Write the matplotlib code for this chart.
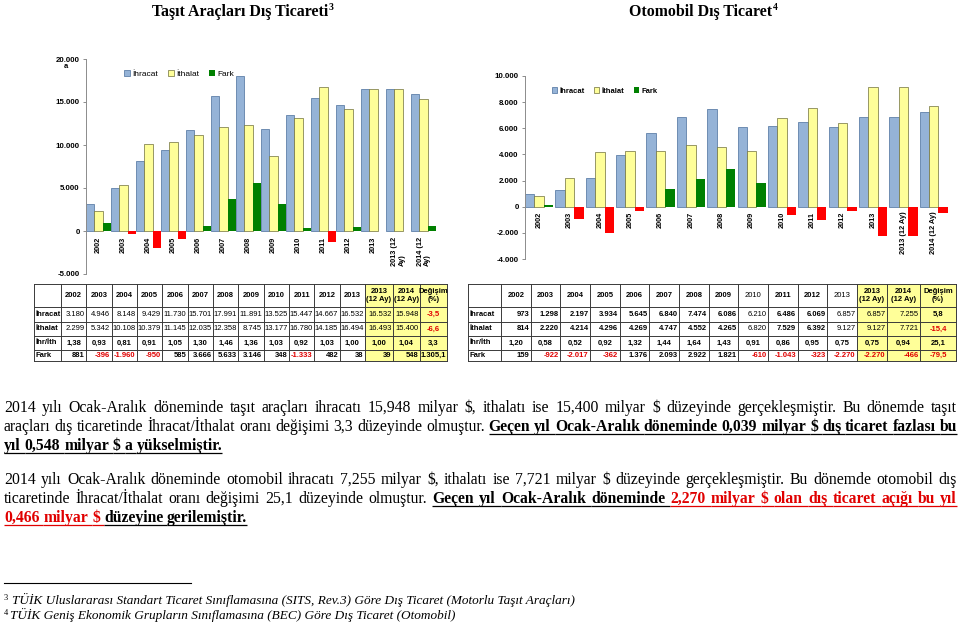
import numpy as np
import matplotlib
matplotlib.use('Agg')
import matplotlib.pyplot as plt
from matplotlib.patches import Rectangle

W, H = 959, 624

# ---- data ----
years = ['2002', '2003', '2004', '2005', '2006', '2007', '2008', '2009', '2010', '2011', '2012', '2013']
tasit_xlabels = years + ['2013 (12\nAy)', '2014 (12\nAy)']
oto_xlabels = years + ['2013 (12 Ay)', '2014 (12 Ay)']
table_heads = years + ['2013\n(12 Ay)', '2014\n(12 Ay)', 'Değişim\n(%)']
row_names = ['İhracat', 'İthalat', 'İhr/İth', 'Fark']
legend_names = ['İhracat', 'İthalat', 'Fark']

tasit_ihracat = [3180, 4946, 8148, 9429, 11730, 15701, 17991, 11891, 13525, 15447, 14667, 16532, 16532, 15948]
tasit_ithalat = [2299, 5342, 10108, 10379, 11145, 12035, 12358, 8745, 13177, 16780, 14185, 16494, 16493, 15400]
tasit_oran = [1.38, 0.93, 0.81, 0.91, 1.05, 1.30, 1.46, 1.36, 1.03, 0.92, 1.03, 1.00, 1.00, 1.04]
tasit_fark = [881, -396, -1960, -950, 585, 3666, 5633, 3146, 348, -1333, 482, 38, 39, 548]
tasit_degisim = [-3.5, -6.6, 3.3, 1305.1]

oto_ihracat = [973, 1298, 2197, 3934, 5645, 6840, 7474, 6086, 6210, 6486, 6069, 6857, 6857, 7255]
oto_ithalat = [814, 2220, 4214, 4296, 4269, 4747, 4552, 4265, 6820, 7529, 6392, 9127, 9127, 7721]
oto_oran = [1.20, 0.58, 0.52, 0.92, 1.32, 1.44, 1.64, 1.43, 0.91, 0.86, 0.95, 0.75, 0.75, 0.94]
oto_fark = [159, -922, -2017, -362, 1376, 2093, 2922, 1821, -610, -1043, -323, -2270, -2270, -466]
oto_degisim = [5.8, -15.4, 25.1, -79.5]

title_left = 'Taşıt Araçları Dış Ticareti'
title_right = 'Otomobil Dış Ticaret'

para_lines = [
    ([('2014 yılı Ocak-Aralık döneminde taşıt araçları ihracatı 15,948 milyar $, ithalatı ise 15,400 milyar $ düzeyinde gerçekleşmiştir. Bu dönemde taşıt', 'n')], True),
    ([('araçları dış ticaretinde İhracat/İthalat oranı değişimi 3,3 düzeyinde olmuştur.', 'n'),
      ('Geçen yıl Ocak-Aralık döneminde 0,039 milyar $ dış ticaret fazlası bu', 'b')], True),
    ([('yıl 0,548 milyar $ a yükselmiştir.', 'b')], False),
    ([('2014 yılı Ocak-Aralık döneminde otomobil ihracatı 7,255 milyar $, ithalatı ise 7,721 milyar $ düzeyinde gerçekleşmiştir. Bu dönemde otomobil dış', 'n')], True),
    ([('ticaretinde İhracat/İthalat oranı değişimi 25,1 düzeyinde olmuştur.', 'n'),
      ('Geçen yıl Ocak-Aralık döneminde', 'b'),
      ('2,270  milyar $ olan dış ticaret açığı bu yıl', 'r')], True),
    ([('0,466 milyar $', 'r'), ('düzeyine gerilemiştir.', 'b')], False),
]
para_y = [412, 431, 450, 484, 503, 522]

footnotes = [('3', 'TÜİK Uluslararası Standart Ticaret Sınıflamasına (SITS, Rev.3) Göre Dış Ticaret (Motorlu Taşıt Araçları)'),
             ('4', 'TÜİK Geniş Ekonomik Grupların Sınıflamasına (BEC) Göre Dış Ticaret (Otomobil)')]

# ---- styles ----
blue, blue_e = '#95B3D7', '#4A6E9C'
yel, yel_e = '#FFFF99', '#6E6E3A'
green, red = '#008000', '#FF0000'
txt_red = '#E00000'
SANS = 'Liberation Sans'
SERIF = 'Liberation Serif'

fig = plt.figure(figsize=(W / 100, H / 100), dpi=100)
ov = fig.add_axes([0, 0, 1, 1])
ov.set_xlim(0, W)
ov.set_ylim(H, 0)
ov.axis('off')
rend = fig.canvas.get_renderer()


def px_axes(x0, y0, x1, y1):
    return fig.add_axes([x0 / W, 1 - y1 / H, (x1 - x0) / W, (y1 - y0) / H])


def fmt_int(v):
    return f'{v:,}'.replace(',', '.')


def fmt_dec(v, n):
    s = f'{v:,.{n}f}'
    return s.replace(',', '#').replace('.', ',').replace('#', '.')


def bar_chart(box, exp, imp, fark, labels, ylim, step, width, xlim, lab_off, leg_xy, leg_w, leg_fs):
    ax = px_axes(*box)
    ax.set_facecolor('none')
    x = np.arange(len(exp))
    fark = np.array(fark)
    ax.bar(x - width, exp, width, color=blue, edgecolor=blue_e, lw=0.5)
    ax.bar(x, imp, width, color=yel, edgecolor=yel_e, lw=0.5)
    ax.bar(x + width, fark, width, color=[green if v >= 0 else red for v in fark], lw=0)
    ax.set_xlim(*xlim)
    ax.set_ylim(*ylim)
    for s in ['top', 'right', 'bottom']:
        ax.spines[s].set_visible(False)
    ax.spines['left'].set_color('#8C8C8C')
    ax.spines['left'].set_linewidth(0.7)
    ax.set_xticks([])
    ax.set_yticks(np.arange(ylim[0], ylim[1] + 1, step))
    ax.set_yticklabels([fmt_int(int(v)) for v in np.arange(ylim[0], ylim[1] + 1, step)],
                       fontsize=5.7, fontweight='bold', family=SANS)
    ax.tick_params(axis='y', length=2.5, width=0.7, color='#8C8C8C', pad=2)
    for i, lb in enumerate(labels):
        ax.annotate(lb, (i, 0), xytext=(0, -lab_off), textcoords='offset points', rotation=90,
                    ha='center', va='top', multialignment='left', fontsize=5.3,
                    fontweight='bold', family=SANS, linespacing=1.0)
    handles = [Rectangle((0, 0), 1, 1, fc=blue, ec=blue_e, lw=0.5),
               Rectangle((0, 0), 1, 1, fc=yel, ec=yel_e, lw=0.5),
               Rectangle((0, 0), 1, 1, fc=green, ec='none')]
    fig.legend(handles, legend_names, loc='center left', bbox_to_anchor=(leg_xy[0] / W, 1 - leg_xy[1] / H),
               ncol=3, frameon=False, prop={'family': SANS, 'size': leg_fs, 'weight': leg_w},
               handlelength=0.7, handleheight=0.7, handletextpad=0.3, columnspacing=1.2,
               borderaxespad=0, borderpad=0)
    return ax


# left chart: 14 groups between x=86 and x=436
axl = bar_chart((86, 59, 436, 274), tasit_ihracat, tasit_ithalat, tasit_fark, tasit_xlabels,
                (-5000, 20000), 5000, 1 / 3, (-0.5, 13.5), 4.3, (124, 74), 'normal', 6)
ov.text(66, 67, 'a', fontsize=5.5, fontweight='bold', family=SANS, ha='center', va='center')
# right chart: 14 groups between x=525 and x=950
axr = bar_chart((525, 76, 950, 259), oto_ihracat, oto_ithalat, oto_fark, oto_xlabels,
                (-4000, 10000), 2000, 0.31, (-0.465, 13.535), 3.6, (552, 91), 'bold', 5.5)


# ---- tables ----
row_y = [284, 307, 322, 336, 350, 361]


def draw_table(x0, widths, exp, imp, oran, fark, degisim, row_w, head_normal, val_normal):
    xe = x0 + np.concatenate([[0], np.cumsum(widths)])
    ye = np.array(row_y)
    ov.add_patch(Rectangle((xe[-4], ye[0]), xe[-1] - xe[-4], ye[-1] - ye[0], fc='#FFFF99', ec='none', zorder=1))
    for xv in xe:
        ov.plot([xv, xv], [ye[0], ye[-1]], color='#3A3A3A', lw=0.7, zorder=2)
    for yv in ye:
        ov.plot([xe[0], xe[-1]], [yv, yv], color='#3A3A3A', lw=0.7, zorder=2)
    fs = 5.5
    for j, hd in enumerate(table_heads):
        ov.text((xe[j + 1] + xe[j + 2]) / 2, (ye[0] + ye[1]) / 2, hd, ha='center', va='center',
                fontsize=fs, family=SANS, linespacing=1.1, zorder=3,
                fontweight='normal' if j in head_normal else 'bold')
    rows = [[fmt_int(v) for v in exp] + [fmt_dec(degisim[0], 1)],
            [fmt_int(v) for v in imp] + [fmt_dec(degisim[1], 1)],
            [fmt_dec(v, 2) for v in oran] + [fmt_dec(degisim[2], 1)],
            [fmt_int(v) for v in fark] + [fmt_dec(degisim[3], 1)]]
    aligns = ['right', 'right', 'center', 'right']
    for r, vals in enumerate(rows):
        yc = (ye[r + 1] + ye[r + 2]) / 2
        ov.text(xe[0] + 1.5, yc, row_names[r], ha='left', va='center', fontsize=fs,
                family=SANS, fontweight='bold', zorder=3)
        for j, s in enumerate(vals):
            last = j == len(vals) - 1
            al = 'center' if last else aligns[r]
            xt = {'center': (xe[j + 1] + xe[j + 2]) / 2, 'right': xe[j + 2] - 1.5}[al]
            wt = row_w[r]
            if j in val_normal and not last and r < 2:
                wt = 'normal'
            if last:
                wt = 'bold'
            ov.text(xt, yc, s, ha=al, va='center', fontsize=fs, family=SANS, zorder=3,
                    fontweight=wt, color=txt_red if s.startswith('-') else 'black')


draw_table(34, [27] + [25.33] * 12 + [28, 27, 27], tasit_ihracat, tasit_ithalat, tasit_oran,
           tasit_fark, tasit_degisim, ['normal', 'normal', 'bold', 'bold'], set(), set())
draw_table(468, [33] + [29.67] * 12 + [30, 33, 36], oto_ihracat, oto_ithalat, oto_oran,
           oto_fark, oto_degisim, ['bold', 'bold', 'bold', 'bold'], {8, 11}, {8, 11, 12, 13})

# ---- titles ----
for txt, xr, sup in [(title_left, 328, '3'), (title_right, 772, '4')]:
    ov.text(xr, 16, txt, ha='right', va='baseline', fontsize=11.4, fontweight='bold', family=SERIF)
    ov.text(xr + 0.5, 10, sup, ha='left', va='baseline', fontsize=7, fontweight='bold', family=SERIF)

# ---- paragraphs (justified) ----
FS = 11.3
STY = {'n': ('normal', 'black', False), 'b': ('bold', 'black', True), 'r': ('bold', txt_red, True)}
space_px = 0.25 * FS * 100 / 72
for (segs, justify), yb in zip(para_lines, para_y):
    items = []
    for txt, st in segs:
        wt, col, und = STY[st]
        for w in txt.split():
            t = ov.text(0, yb, w, ha='left', va='baseline', fontsize=FS, family=SERIF,
                        fontweight=wt, color=col)
            items.append([t, t.get_window_extent(rend).width, col, und])
    x0, x1 = 4, 957
    total = sum(it[1] for it in items)
    gap = (x1 - x0 - total) / (len(items) - 1) if justify else space_px
    xc = x0
    for k, (t, wd, col, und) in enumerate(items):
        t.set_x(xc)
        if und:
            xe_ = xc + wd
            if k + 1 < len(items) and items[k + 1][3]:
                xe_ += gap
            ov.plot([xc, xe_], [yb + 2.5, yb + 2.5], color=col, lw=0.9, solid_capstyle='butt')
        xc += wd + gap

# ---- footnotes ----
ov.plot([4, 191], [583, 583], color='black', lw=0.8)
for (sup, txt), yb, xt in zip(footnotes, [604, 619], [12, 10]):
    ov.text(4, yb - 4, sup, ha='left', va='baseline', fontsize=6, family=SERIF)
    ov.text(xt, yb, txt, ha='left', va='baseline', fontsize=9.5, family=SERIF, style='italic')

fig.savefig('out.png', dpi=100)
